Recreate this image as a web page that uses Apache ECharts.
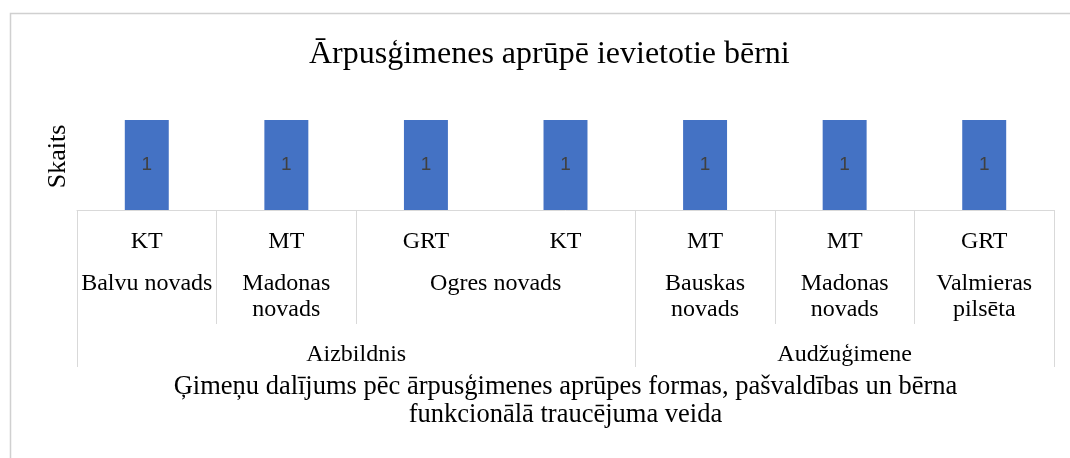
<!DOCTYPE html>
<html>
<head>
<meta charset="utf-8">
<script src="https://cdn.jsdelivr.net/npm/echarts@6/dist/echarts.min.js"></script>
<style>
html,body{margin:0;padding:0;background:#fff;}
#c{width:1070px;height:458px;}
</style>
</head>
<body>
<div id="c"></div>
<script>
// Data
const codes = ['KT', 'MT', 'GRT', 'KT', 'MT', 'MT', 'GRT'];
const values = [1, 1, 1, 1, 1, 1, 1];
const municipalities = ['Balvu novads', 'Madonas\nnovads', 'Ogres novads', 'Bauskas\nnovads', 'Madonas\nnovads', 'Valmieras\npilsēta'];
const municipalitySpans = [1, 1, 2, 1, 1, 1];
const forms = ['Aizbildnis', 'Audžuģimene'];
const formSpans = [4, 3];
const title = 'Ārpusģimenes aprūpē ievietotie bērni';
const xTitle = 'Ģimeņu dalījums pēc ārpusģimenes aprūpes formas, pašvaldības un bērna\nfunkcionālā traucējuma veida';
const yTitle = 'Skaits';

function groupLayout(spans) {
  const centers = [], bounds = [0];
  let acc = 0;
  spans.forEach(s => { centers.push(acc + s / 2); acc += s; bounds.push(acc); });
  return { centers, bounds };
}
const mun = groupLayout(municipalitySpans);
const frm = groupLayout(formSpans);
const n = codes.length;

const serif = '"Liberation Serif", "Times New Roman", serif';
const lineCol = '#d9d9d9';

const chart = echarts.init(document.getElementById('c'));
chart.setOption({
  animation: false,
  backgroundColor: '#fff',
  title: {
    text: title, left: 304, top: 34,
    textStyle: { fontFamily: serif, fontSize: 32, fontWeight: 'normal', color: '#000' }
  },
  graphic: [{
    type: 'rect', left: 8, top: 11, silent: true,
    shape: { width: 1100, height: 500 },
    style: { fill: 'none', stroke: '#d0d0d0', lineWidth: 1.5 }
  }],
  grid: { left: 77, right: 16, top: 120, height: 90 },
  xAxis: [{
    type: 'category',
    data: codes.map((c, i) => String(i)),
    position: 'bottom',
    axisLine: { lineStyle: { color: lineCol, width: 1 } },
    axisTick: { show: false },
    axisLabel: {
      margin: 19, interval: 0,
      formatter: (v, i) => codes[i],
      fontFamily: serif, fontSize: 24, lineHeight: 26, color: '#000'
    }
  }, {
    type: 'value', min: 0, max: n, position: 'bottom',
    axisLine: { show: false },
    splitLine: { show: false },
    axisTick: { show: true, customValues: mun.bounds, length: 114, lineStyle: { color: lineCol, width: 1 } },
    axisLabel: {
      customValues: mun.centers, margin: 61,
      formatter: (v) => municipalities[mun.centers.indexOf(v)] || '',
      fontFamily: serif, fontSize: 24, lineHeight: 26, color: '#000'
    }
  }, {
    type: 'value', min: 0, max: n, position: 'bottom',
    axisLine: { show: false },
    splitLine: { show: false },
    axisTick: { show: true, customValues: frm.bounds, length: 157, lineStyle: { color: lineCol, width: 1 } },
    axisLabel: {
      customValues: frm.centers, margin: 132,
      formatter: (v) => forms[frm.centers.indexOf(v)] || '',
      fontFamily: serif, fontSize: 24, lineHeight: 26, color: '#000'
    },
    name: xTitle, nameLocation: 'middle', nameGap: 163,
    nameTextStyle: { fontFamily: serif, fontSize: 26.5, lineHeight: 28, color: '#000' }
  }],
  yAxis: {
    type: 'value', min: 0, max: 1,
    axisLine: { show: false }, axisTick: { show: false },
    axisLabel: { show: false }, splitLine: { show: false },
    name: yTitle, nameLocation: 'middle', nameGap: 6, nameRotate: 90,
    nameTextStyle: { fontFamily: serif, fontSize: 26, color: '#000', padding: [0, 0, 0, 17] }
  },
  series: [{
    type: 'bar', xAxisIndex: 0, yAxisIndex: 0,
    data: values, barWidth: '31.5%',
    itemStyle: { color: '#4472C4' },
    label: {
      show: true, position: 'inside',
      fontFamily: '"Liberation Sans", "Noto Sans", sans-serif', fontSize: 19, color: '#404040'
    }
  }]
});
</script>
</body>
</html>
